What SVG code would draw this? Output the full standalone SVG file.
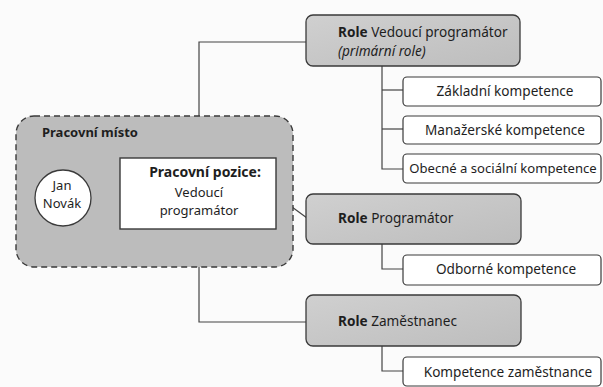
<svg xmlns="http://www.w3.org/2000/svg" width="603" height="387" viewBox="0 0 603 387">
  <defs>
    <linearGradient id="roleFill" x1="0" y1="0" x2="1" y2="1">
      <stop offset="0" stop-color="#d0d0d0"/>
      <stop offset="1" stop-color="#bdbdbd"/>
    </linearGradient>
    <style>
      text { font-family: "Noto Sans", "Liberation Sans", sans-serif; fill: #1e1e1e; font-size: 13.6px; }
      .b { font-weight: bold; }
      .i { font-style: italic; }
      .mid { text-anchor: middle; }
      .two { font-size: 13px; }
      .role { fill: url(#roleFill); stroke: #3a3a3a; stroke-width: 1.3; }
      .comp { fill: #ffffff; stroke: #3a3a3a; stroke-width: 1.2; }
      .wire { fill: none; stroke: #444; stroke-width: 1.2; }
    </style>
  </defs>
  <rect width="603" height="387" fill="#fbfbfb"/>

  <!-- connectors -->
  <g id="connectors">
    <polyline class="wire" points="199,116 199,42 306,42"/>
    <polyline class="wire" points="199,267 199,322 306,322"/>
    <line class="wire" x1="277" y1="196" x2="307" y2="218"/>
    <line class="wire" x1="91" y1="196" x2="120" y2="196"/>
    <polyline class="wire" points="382,66 382,169 403,169"/>
    <line class="wire" x1="382" y1="90" x2="403" y2="90"/>
    <line class="wire" x1="382" y1="129" x2="403" y2="129"/>
    <polyline class="wire" points="382,244 382,269 403,269"/>
    <polyline class="wire" points="382,346 382,371 403,371"/>
  </g>

  <!-- workplace group -->
  <g id="pracovni-misto">
    <rect x="16" y="116" width="277" height="151" rx="18" fill="#bcbcbc" stroke="#3a3a3a" stroke-width="1.4" stroke-dasharray="6 4"/>
    <text class="b" x="42" y="137" style="font-size:13px">Pracovní místo</text>
  </g>

  <g id="jan-novak">
    <circle cx="63" cy="198" r="28" fill="#ffffff" stroke="#3a3a3a" stroke-width="1.3"/>
    <text class="mid two" x="62" y="190">Jan</text>
    <text class="mid two" x="62" y="208">Novák</text>
  </g>

  <g id="pracovni-pozice">
    <rect x="120" y="158" width="156" height="71" fill="#ffffff" stroke="#3a3a3a" stroke-width="1.4"/>
    <text class="b mid" x="205" y="177" style="font-size:14px">Pracovní pozice:</text>
    <text class="mid two" x="199" y="197">Vedoucí</text>
    <text class="mid two" x="199" y="215">programátor</text>
  </g>

  <!-- roles -->
  <g id="role-vedouci">
    <rect class="role" x="306" y="15" width="214" height="51" rx="7"/>
    <text x="338" y="37"><tspan class="b">Role</tspan> Vedoucí programátor</text>
    <text class="i" x="338" y="56">(primární role)</text>
  </g>

  <g id="role-programator">
    <rect class="role" x="306" y="194" width="215" height="50" rx="7"/>
    <text x="338" y="223"><tspan class="b">Role</tspan> Programátor</text>
  </g>

  <g id="role-zamestnanec">
    <rect class="role" x="306" y="295" width="215" height="51" rx="7"/>
    <text x="338" y="326"><tspan class="b">Role</tspan> Zaměstnanec</text>
  </g>

  <!-- competences -->
  <g id="zakladni">
    <rect class="comp" x="403" y="77" width="198" height="29" rx="4"/>
    <text class="mid" x="505" y="96">Základní kompetence</text>
  </g>
  <g id="manazerske">
    <rect class="comp" x="403" y="116" width="198" height="28" rx="4"/>
    <text class="mid" x="505" y="135">Manažerské kompetence</text>
  </g>
  <g id="obecne">
    <rect class="comp" x="403" y="154" width="198" height="29" rx="4"/>
    <text class="mid" x="503" y="173" style="font-size:13.1px">Obecné a sociální kompetence</text>
  </g>
  <g id="odborne">
    <rect class="comp" x="403" y="255" width="198" height="30" rx="4"/>
    <text class="mid" x="506" y="274">Odborné kompetence</text>
  </g>
  <g id="kompetence-zamestnance">
    <rect class="comp" x="403" y="357" width="198" height="29" rx="4"/>
    <text class="mid" x="508" y="377">Kompetence zaměstnance</text>
  </g>
</svg>
